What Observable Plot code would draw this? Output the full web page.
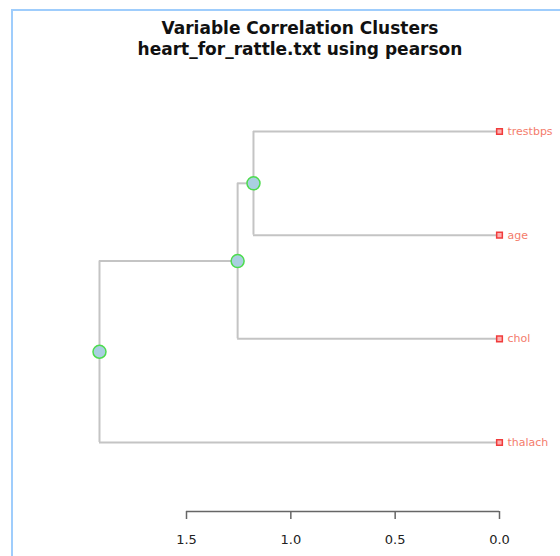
<!DOCTYPE html>
<html><head><meta charset="utf-8">
<script src="https://cdn.jsdelivr.net/npm/d3@7"></script>
<script src="https://cdn.jsdelivr.net/npm/@observablehq/plot@0.6"></script>
<style>
body{margin:0;background:#fff;}
#wrap{position:relative;width:560px;height:556px;overflow:hidden;}
#frame{position:absolute;left:11px;top:9px;width:560px;height:560px;border-left:2px solid #9fcdfc;border-top:2px solid #9fcdfc;}
#title{position:absolute;left:20px;top:18px;width:560px;text-align:center;font:bold 17px "DejaVu Sans",Verdana,sans-serif;line-height:21px;color:#111;}
#chart{position:absolute;left:0;top:0;}
</style></head>
<body><div id="wrap"><div id="frame"></div>
<div id="title">Variable Correlation Clusters<br>heart_for_rattle.txt using pearson</div>
<div id="chart"></div></div>
<script>
const leaves = ["trestbps", "age", "chol", "thalach"];
const mergeLeft = ["trestbps", "n1", "n2"];
const mergeRight = ["age", "chol", "thalach"];
const mergeNames = ["n1", "n2", "n3"];
const mergeHeights = [1.179, 1.255, 1.917];
const tickValues = [1.5, 1.0, 0.5, 0.0];

const pos = {}; const hgt = {};
leaves.forEach((l, i) => { pos[l] = i; hgt[l] = 0; });
const horiz = [], vert = [], nodes = [];
mergeNames.forEach((n, i) => {
  const a = mergeLeft[i], b = mergeRight[i], h = mergeHeights[i];
  pos[n] = (pos[a] + pos[b]) / 2; hgt[n] = h;
  vert.push({x: h, y1: pos[a], y2: pos[b]});
  horiz.push({y: pos[a], x1: h, x2: hgt[a]});
  horiz.push({y: pos[b], x1: h, x2: hgt[b]});
  nodes.push({x: h, y: pos[n]});
});
const leafData = leaves.map(l => ({name: l, x: 0, y: pos[l]}));
const axisY = 3.666;

const chart = Plot.plot({
  width: 560, height: 556,
  marginTop: 131, marginBottom: 45, marginLeft: 0, marginRight: 0,
  x: {domain: [0, 1.5], range: [499, 186]},
  y: {domain: [0, axisY], range: [131, 511], axis: null},
  style: {fontFamily: "'DejaVu Sans', Verdana, sans-serif", background: "transparent"},
  marks: [
    Plot.ruleY(horiz, {y: "y", x1: "x1", x2: "x2", stroke: "#c4c4c4", strokeWidth: 2}),
    Plot.ruleX(vert, {x: "x", y1: "y1", y2: "y2", stroke: "#c4c4c4", strokeWidth: 2}),
    Plot.dot(nodes, {x: "x", y: "y", r: 6.5, fill: "#a9cfe0", stroke: "#4ddc4d", strokeWidth: 1.5}),
    Plot.dot(leafData, {x: "x", y: "y", symbol: "square", r: 3.2, fill: "#ffb0b0", stroke: "#f03c3c", strokeWidth: 1.5}),
    Plot.text(leafData, {x: "x", y: "y", text: "name", dx: 8, textAnchor: "start", fill: "#f47c6c", fontSize: 11}),
    Plot.ruleY([axisY], {x1: () => d3.max(tickValues), x2: () => d3.min(tickValues), stroke: "#666", strokeWidth: 1.5}),
    Plot.axisX({ticks: tickValues, tickFormat: ".1f", tickSize: 8, tickPadding: 15, fontSize: 13, stroke: "#666", strokeWidth: 1.5, color: "#222", label: null})
  ]
});
document.getElementById("chart").appendChild(chart);
</script></body></html>
